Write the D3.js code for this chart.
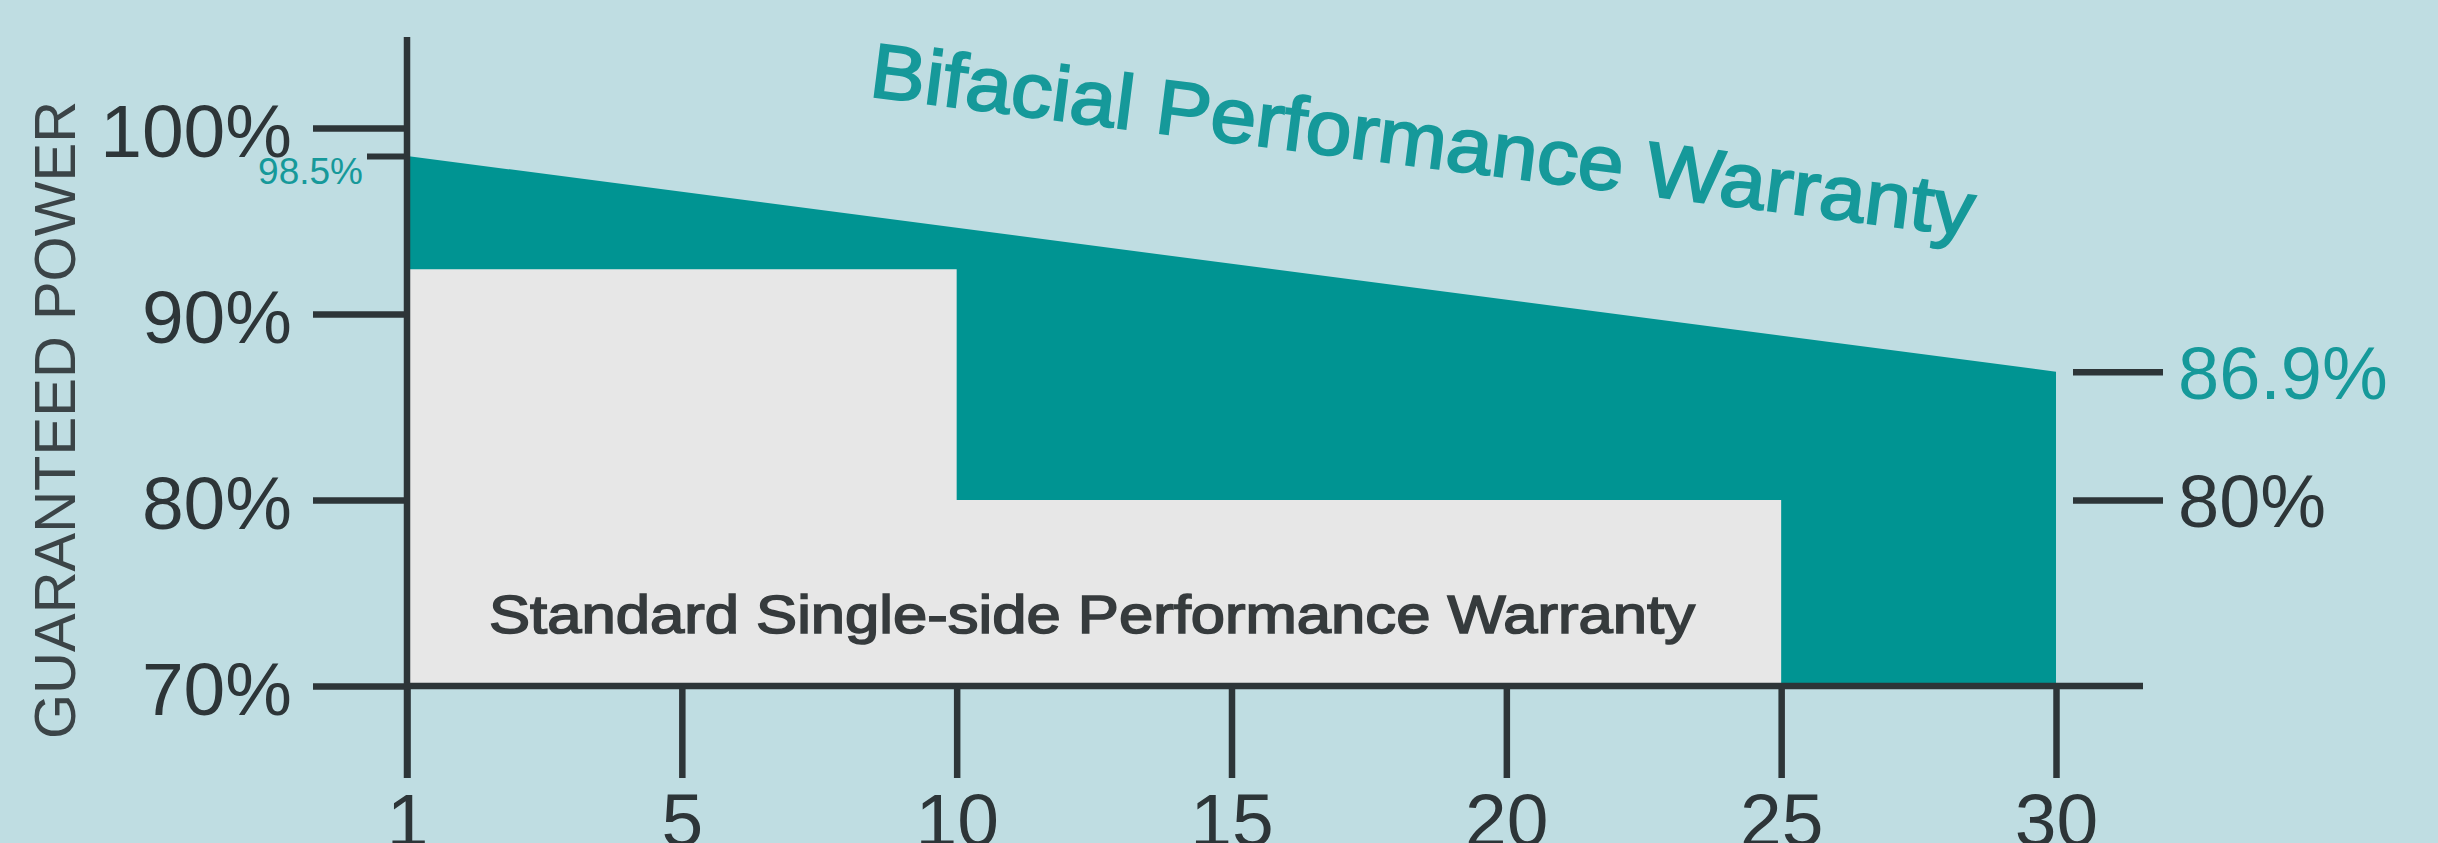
<!DOCTYPE html>
<html>
<head>
<meta charset="utf-8">
<script src="https://cdn.jsdelivr.net/npm/d3@7"></script>
<style>
  html, body { margin: 0; padding: 0; background: #bfdde2; overflow: hidden; }
  svg { display: block; font-family: "Liberation Sans", Arial, sans-serif; }
</style>
</head>
<body>
<div id="chart"></div>
<script>
var width = 2438;
var height = 843;

// x ticks are evenly spaced (not proportional to years)
var yearTicks = [1, 5, 10, 15, 20, 25, 30];
var powerTicks = [70, 80, 90, 100];

// bifacial warranty line
var bifacialYears = [1, 30];
var bifacialPower = [98.5, 86.9];

// standard single-side warranty steps
var standardYears = [1, 10, 25];
var standardPower = [92.4, 80, 80];

var rightTicks = [86.9, 80];

var ink = "#2d3538";
var teal = "#009492";
var tealText = "#16999a";

document.addEventListener("DOMContentLoaded", function() {

    var svg = d3.select("#chart")
        .append("svg")
        .attr("width", width)
        .attr("height", height);

    var x = d3.scalePoint()
        .domain(yearTicks)
        .range([407, 2056]);

    var y = d3.scaleLinear()
        .domain([70, 100])
        .range([686, 128]);

    var bifacial = bifacialYears.map((d, i) => ({year: d, p: bifacialPower[i]}));
    var standard = standardYears.map((d, i) => ({year: d, p: standardPower[i]}));

    // teal area under the bifacial line
    var area = d3.area()
        .x(d => x(d.year))
        .y0(y(70))
        .y1(d => y(d.p));

    svg.append("path")
        .datum(bifacial)
        .attr("d", area)
        .attr("fill", teal);

    // gray standard warranty
    svg.append("path")
        .datum(standard)
        .attr("d", area.curve(d3.curveStepAfter))
        .attr("fill", "#e7e7e7");

    // slightly heavier than regular, glyphs stretched a bit wider like the original
    svg.append("text")
        .attr("x", 489)
        .attr("y", 633)
        .attr("font-size", 53)
        .attr("textLength", 1206)
        .attr("lengthAdjust", "spacingAndGlyphs")
        .attr("fill", "#363b3d")
        .attr("stroke", "#363b3d")
        .attr("stroke-width", 1.6)
        .text("Standard Single-side Performance Warranty");

    // title along the slope
    var ang = Math.atan2(y(bifacialPower[1]) - y(bifacialPower[0]), x(30) - x(1)) * 180 / Math.PI;
    svg.append("text")
        .attr("transform", "translate(868,96) rotate(" + (ang - 0.2) + ")")
        .attr("font-size", 77)
        .attr("textLength", 1112)
        .attr("lengthAdjust", "spacingAndGlyphs")
        .attr("fill", tealText)
        .attr("stroke", tealText)
        .attr("stroke-width", 2)
        .text("Bifacial Performance Warranty");

    // left axis
    var gy = svg.append("g")
        .attr("transform", "translate(" + x(1) + ",0)")
        .call(d3.axisLeft(y).tickValues(powerTicks).tickSize(94).tickPadding(21)
            .tickFormat(d => d + "%"));
    gy.select(".domain").remove();
    gy.selectAll("line").attr("stroke", ink).attr("stroke-width", 6.5);
    gy.selectAll("text").attr("font-size", 75).attr("fill", ink).attr("dy", "0.38em")
        .attr("font-family", "Liberation Sans, Arial, sans-serif");

    // 98.5% marker
    var gm = svg.append("g")
        .attr("transform", "translate(" + x(1) + ",0)")
        .call(d3.axisLeft(y).tickValues([bifacialPower[0]]).tickSize(40).tickPadding(4)
            .tickFormat(d => d + "%"));
    gm.select(".domain").remove();
    gm.selectAll("line").attr("stroke", ink).attr("stroke-width", 6);
    gm.selectAll("text").attr("font-size", 37).attr("fill", tealText).attr("dy", "0.74em")
        .attr("font-family", "Liberation Sans, Arial, sans-serif");

    // bottom axis
    var gx = svg.append("g")
        .attr("transform", "translate(0," + y(70) + ")")
        .call(d3.axisBottom(x).tickSize(92).tickPadding(15));
    gx.select(".domain").remove();
    gx.selectAll("line").attr("stroke", ink).attr("stroke-width", 6.5);
    gx.selectAll("text").attr("font-size", 75).attr("fill", ink)
        .attr("font-family", "Liberation Sans, Arial, sans-serif");

    // axis lines
    svg.append("line")
        .attr("x1", x(1)).attr("x2", x(1))
        .attr("y1", y(100) - 91).attr("y2", y(70) + 92)
        .attr("stroke", ink).attr("stroke-width", 6.5);
    svg.append("line")
        .attr("x1", x(1) - 3).attr("x2", x(30) + 87)
        .attr("y1", y(70)).attr("y2", y(70))
        .attr("stroke", ink).attr("stroke-width", 6.5);

    // right labels
    var gr = svg.append("g")
        .attr("transform", "translate(" + (x(30) + 17) + ",0)")
        .call(d3.axisRight(y).tickValues(rightTicks).tickSize(90).tickPadding(15)
            .tickFormat(d => d + "%"));
    gr.select(".domain").remove();
    gr.selectAll("line").attr("stroke", ink).attr("stroke-width", 6.5);
    gr.selectAll("text").attr("font-size", 74).attr("dy", "0.36em")
        .attr("font-family", "Liberation Sans, Arial, sans-serif")
        .attr("fill", d => d === bifacialPower[1] ? tealText : ink);

    // y title
    svg.append("text")
        .attr("transform", "translate(75,420) rotate(-90)")
        .attr("text-anchor", "middle")
        .attr("font-size", 58)
        .attr("fill", "#3b4447")
        .text("GUARANTEED POWER");
});
</script>
</body>
</html>
